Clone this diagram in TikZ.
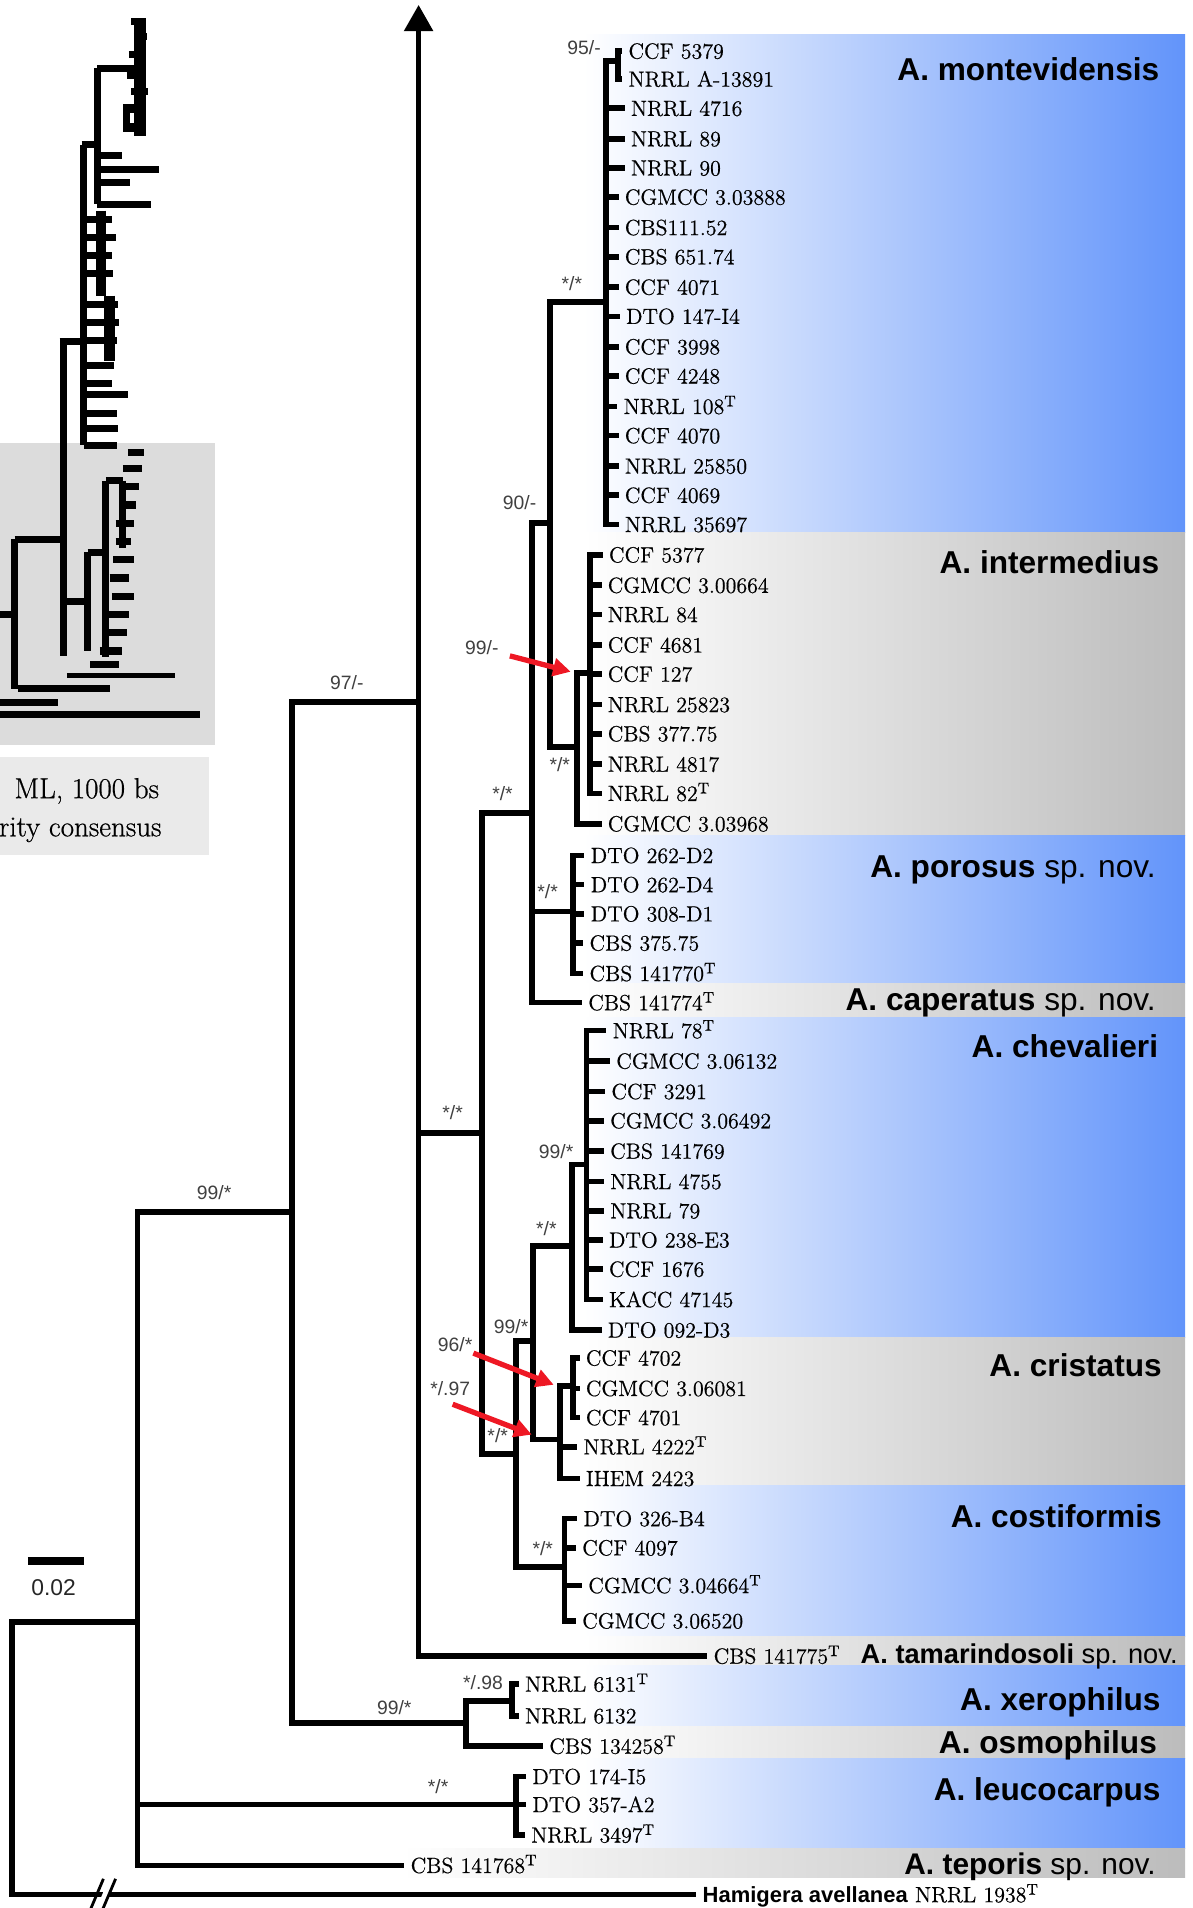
\documentclass[tikz,border=0pt]{standalone}
\usepackage{fontspec}
\usepackage{tikz}
\usetikzlibrary{arrows.meta, positioning, calc}
\newfontfamily\supfont{Liberation Sans}
\newfontfamily\cladefamily{Liberation Sans}
\newfontfamily\tipfamily{Latin Modern Roman}[FakeBold=0.6]
\definecolor{bandblue}{RGB}{98,148,250}
\definecolor{bandgray}{RGB}{188,188,188}
\definecolor{arrowred}{RGB}{238,24,36}
\definecolor{insetgray}{RGB}{220,220,220}
\definecolor{boxgray}{RGB}{234,234,234}
\newcommand{\typemark}{\textsuperscript{T}}
\newcommand{\cladeband}[4]{\shade[left color=white, right color=#4] (#1,#2) rectangle (974,#3);}
\tikzset{
    branch/.style={draw, line width=3.2pt, line cap=rect, black},
    thumb/.style={draw, line width=4pt, black},
    tip/.style={anchor=west, inner xsep=5pt, inner ysep=0pt, text height=8.6pt, text depth=0pt, font=\tipfamily\fontsize{12.5}{14}\selectfont},
    support/.style={inner sep=0pt, font=\supfont\fontsize{11}{12}\selectfont, text=black!75},
    clade/.style={anchor=east, inner sep=0pt, text height=13pt, text depth=0pt, font=\cladefamily\fontsize{18}{20}\selectfont},
    pointer/.style={draw=arrowred, line width=3pt, -{Triangle[length=10pt, width=10pt]}}
}
\begin{document}
\begin{tikzpicture}[x=0.02434cm, y=-0.02434cm]
\useasboundingbox (0,0) rectangle (980,1568);

% Coloured bands of the species
\cladeband{480}{28}{438}{bandblue}
\cladeband{480}{438}{687}{bandgray}
\cladeband{480}{687}{808}{bandblue}
\cladeband{480}{808}{836}{bandgray}
\cladeband{480}{836}{1099}{bandblue}
\cladeband{480}{1099}{1221}{bandgray}
\cladeband{480}{1221}{1345}{bandblue}
\cladeband{480}{1345}{1369}{bandgray}
\cladeband{480}{1369}{1419}{bandblue}
\cladeband{480}{1419}{1445}{bandgray}
\cladeband{480}{1445}{1519}{bandblue}
\cladeband{330}{1519}{1543}{bandgray}

% Thumbnail of the whole tree
\fill[insetgray] (0,364) rectangle (177,612);
\fill[boxgray] (0,622) rectangle (172,703);
\node[anchor=east, inner sep=0pt, font=\tipfamily\fontsize{16.5}{18}\selectfont] (ml) at (131,650) {ML, 1000 bs};
\node[anchor=west, inner sep=0pt, font=\tipfamily\fontsize{16.5}{18}\selectfont] (cons) at (-1,682) {rity consensus};
\draw[thumb] (67,119) -- (80,119);
\draw[thumb] (80,56) -- (80,168);
\draw[thumb] (80,56) -- (110,56);
\draw[line width=7pt] (115,16) -- (115,112);
\draw[thumb] (108,18) -- (120,18) (110,30) -- (121,30) (106,45) -- (119,45) (104,62) -- (118,62)
    (108,75) -- (122,75) (104,90) -- (116,90) (106,104) -- (120,104);
\draw[thumb] (104,88) rectangle (113,106);
\draw[thumb] (80,128) -- (100,128) (80,139) -- (131,139) (80,150) -- (107,150) (80,168) -- (124,168);
\draw[thumb] (69,119) -- (69,366);
\draw[line width=6pt] (83,173) -- (83,243);
\draw[line width=6pt] (90,243) -- (90,297);
\draw[thumb] (69,180) -- (92,180) (69,195) -- (95,195) (69,210) -- (92,210) (69,225) -- (93,225)
    (69,250) -- (97,250) (69,265) -- (98,265) (69,280) -- (96,280) (69,300) -- (94,300)
    (69,315) -- (92,315) (69,324) -- (105,324) (69,340) -- (96,340) (69,352) -- (97,352) (69,366) -- (96,366);
\draw[thumb] (49,281) -- (69,281);
\draw[thumb] (52,281) -- (52,539);
\draw[thumb] (12,443) -- (52,443);
\draw[thumb] (12,443) -- (12,566);
\draw[thumb] (0,505) -- (12,505);
\draw[thumb] (52,494) -- (72,494);
\draw[thumb] (72,454) -- (72,535);
\draw[thumb] (72,454) -- (87,454);
\draw[thumb] (87,395) -- (87,540);
\draw[thumb] (87,395) -- (101,395);
\draw[thumb] (101,395) -- (101,450);
\draw[thumb] (105,372) -- (118,372) (101,385) -- (117,385) (99,400) -- (114,400) (100,415) -- (112,415)
    (95,430) -- (110,430) (95,445) -- (108,445) (93,460) -- (110,460) (90,475) -- (106,475)
    (92,490) -- (110,490) (88,505) -- (106,505) (86,520) -- (104,520) (82,535) -- (100,535) (74,546) -- (98,546);
\draw[line width=2.5pt] (55,555) -- (144,555);
\draw[thumb] (15,566) -- (90,566);
\draw[thumb] (0,577) -- (48,577);
\draw[thumb] (0,587) -- (164,587);

% Internal nodes
\coordinate (root) at (10,1333);
\coordinate (nB) at (113,1333);
\coordinate (nC) at (240,996);
\coordinate (nD) at (344,577);
\coordinate (top) at (344,4);
\coordinate (nE) at (396,931);
\coordinate (nF) at (437,668);
\coordinate (nH) at (452,430);
\coordinate (nMon) at (498,248);
\coordinate (nMon2) at (508,50);
\coordinate (nInt) at (474,614);
\coordinate (nInt2) at (485,553);
\coordinate (nPor) at (471,749);
\coordinate (nG) at (424,1195);
\coordinate (nI) at (438,1102);
\coordinate (nJ) at (470,1024);
\coordinate (nChe) at (482,957);
\coordinate (nCri) at (460,1183);
\coordinate (nCri2) at (471,1139);
\coordinate (nCos) at (464,1288);
\coordinate (nXO) at (383,1416);
\coordinate (nXer) at (421,1398);
\coordinate (nLeu) at (424,1483);

% A. montevidensis
\node[tip] (m1) at (509,42) {CCF 5379};
\node[tip] (m2) at (509,65) {NRRL A-13891};
\node[tip] (m3) at (511,89) {NRRL 4716};
\node[tip] (m4) at (511,114) {NRRL 89};
\node[tip] (m5) at (511,138) {NRRL 90};
\node[tip] (m6) at (506,162) {CGMCC 3.03888};
\node[tip] (m7) at (506,187) {CBS111.52};
\node[tip] (m8) at (506,211) {CBS 651.74};
\node[tip] (m9) at (506,236) {CCF 4071};
\node[tip] (m10) at (507,260) {DTO 147-I4};
\node[tip] (m11) at (506,285) {CCF 3998};
\node[tip] (m12) at (506,309) {CCF 4248};
\node[tip] (m13) at (505,334) {NRRL 108\typemark};
\node[tip] (m14) at (506,358) {CCF 4070};
\node[tip] (m15) at (506,383) {NRRL 25850};
\node[tip] (m16) at (506,407) {CCF 4069};
\node[tip] (m17) at (506,431) {NRRL 35697};

% A. intermedius
\node[tip] (i1) at (493,456) {CCF 5377};
\node[tip] (i2) at (492,481) {CGMCC 3.00664};
\node[tip] (i3) at (492,505) {NRRL 84};
\node[tip] (i4) at (492,530) {CCF 4681};
\node[tip] (i5) at (492,554) {CCF 127};
\node[tip] (i6) at (492,579) {NRRL 25823};
\node[tip] (i7) at (492,603) {CBS 377.75};
\node[tip] (i8) at (492,628) {NRRL 4817};
\node[tip] (i9) at (492,652) {NRRL 82\typemark};
\node[tip] (i10) at (492,677) {CGMCC 3.03968};

% A. porosus and A. caperatus
\node[tip] (p1) at (478,703) {DTO 262-D2};
\node[tip] (p2) at (478,727) {DTO 262-D4};
\node[tip] (p3) at (478,751) {DTO 308-D1};
\node[tip] (p4) at (477,775) {CBS 375.75};
\node[tip] (p5) at (477,800) {CBS 141770\typemark};
\node[tip] (c1) at (476,824) {CBS 141774\typemark};

% A. chevalieri
\node[tip] (h1) at (496,847) {NRRL 78\typemark};
\node[tip] (h2) at (499,872) {CGMCC 3.06132};
\node[tip] (h3) at (495,897) {CCF 3291};
\node[tip] (h4) at (494,921) {CGMCC 3.06492};
\node[tip] (h5) at (494,946) {CBS 141769};
\node[tip] (h6) at (494,971) {NRRL 4755};
\node[tip] (h7) at (494,995) {NRRL 79};
\node[tip] (h8) at (493,1019) {DTO 238-E3};
\node[tip] (h9) at (493,1043) {CCF 1676};
\node[tip] (h10) at (493,1068) {KACC 47145};
\node[tip] (h11) at (492,1093) {DTO 092-D3};

% A. cristatus
\node[tip] (r1) at (474,1116) {CCF 4702};
\node[tip] (r2) at (474,1141) {CGMCC 3.06081};
\node[tip] (r3) at (474,1165) {CCF 4701};
\node[tip] (r4) at (472,1189) {NRRL 4222\typemark};
\node[tip] (r5) at (474,1215) {IHEM 2423};

% A. costiformis
\node[tip] (o1) at (472,1248) {DTO 326-B4};
\node[tip] (o2) at (471,1272) {CCF 4097};
\node[tip] (o3) at (476,1303) {CGMCC 3.04664\typemark};
\node[tip] (o4) at (471,1332) {CGMCC 3.06520};

% Remaining species and outgroup
\node[tip] (t1) at (579,1361) {CBS 141775\typemark};
\node[tip] (x1) at (424,1384) {NRRL 6131\typemark};
\node[tip] (x2) at (424,1410) {NRRL 6132};
\node[tip] (x3) at (444,1435) {CBS 134258\typemark};
\node[tip] (l1) at (430,1460) {DTO 174-I5};
\node[tip] (l2) at (430,1483) {DTO 357-A2};
\node[tip] (l3) at (429,1508) {NRRL 3497\typemark};
\node[tip] (e1) at (330,1533) {CBS 141768\typemark};
\node[tip] (g1) at (570,1557) {{\supfont\bfseries\fontsize{12.5}{14}\selectfont Hamigera avellanea} NRRL 1938\typemark};

% Branches
\draw[branch] (root) -- (nB) (root) |- (g1.west);
\draw[branch] (nB) |- (nC) (nB) |- (nLeu) (nB) |- (e1.west);
\draw[branch] (nC) |- (nD) (nC) |- (nXO);
\draw[branch] (nD) |- (nE) (nD) |- (t1.west);
\draw[branch, -{Triangle[length=15pt, width=16pt]}] (nD) -- (top);
\draw[branch] (nE) |- (nF) (nE) |- (nG);
\draw[branch] (nF) |- (nH) (nF) |- (nPor) (nF) |- (c1.west);
\draw[branch] (nH) |- (nMon) (nH) |- (nInt);
\draw[branch] (nMon) |- (nMon2) (nMon2) |- (m1.west) (nMon2) |- (m2.west)
    (nMon) |- (m3.west) (nMon) |- (m4.west) (nMon) |- (m5.west) (nMon) |- (m6.west)
    (nMon) |- (m7.west) (nMon) |- (m8.west) (nMon) |- (m9.west) (nMon) |- (m10.west)
    (nMon) |- (m11.west) (nMon) |- (m12.west) (nMon) |- (m13.west) (nMon) |- (m14.west)
    (nMon) |- (m15.west) (nMon) |- (m16.west) (nMon) |- (m17.west);
\draw[branch] (nInt) |- (nInt2) (nInt) |- (i10.west)
    (nInt2) |- (i1.west) (nInt2) |- (i2.west) (nInt2) |- (i3.west) (nInt2) |- (i4.west)
    (nInt2) |- (i5.west) (nInt2) |- (i6.west) (nInt2) |- (i7.west) (nInt2) |- (i8.west) (nInt2) |- (i9.west);
\draw[branch] (nPor) |- (p1.west) (nPor) |- (p2.west) (nPor) |- (p3.west) (nPor) |- (p4.west) (nPor) |- (p5.west);
\draw[branch] (nG) |- (nI) (nG) |- (nCos);
\draw[branch] (nI) |- (nJ) (nI) |- (nCri);
\draw[branch] (nJ) |- (nChe) (nJ) |- (h11.west);
\draw[branch] (nChe) |- (h1.west) (nChe) |- (h2.west) (nChe) |- (h3.west) (nChe) |- (h4.west)
    (nChe) |- (h5.west) (nChe) |- (h6.west) (nChe) |- (h7.west) (nChe) |- (h8.west)
    (nChe) |- (h9.west) (nChe) |- (h10.west);
\draw[branch] (nCri) |- (nCri2) (nCri) |- (r4.west) (nCri) |- (r5.west)
    (nCri2) |- (r1.west) (nCri2) |- (r2.west) (nCri2) |- (r3.west);
\draw[branch] (nCos) |- (o1.west) (nCos) |- (o2.west) (nCos) |- (o3.west) (nCos) |- (o4.west);
\draw[branch] (nXO) |- (nXer) (nXO) |- (x3.west) (nXer) |- (x1.west) (nXer) |- (x2.west);
\draw[branch] (nLeu) |- (l1.west) (nLeu) |- (l2.west) (nLeu) |- (l3.west);

% Break on the outgroup branch
\fill[white] (79,1569) -- (89,1545) -- (94,1545) -- (84,1569) -- cycle;
\draw[line width=1.6pt] (74,1570) -- (85,1544);
\draw[line width=1.6pt] (84,1570) -- (95,1544);

% Scale bar
\coordinate (sbl) at (23,1283);
\coordinate (sbr) at (69,1283);
\draw[line width=4.5pt] (sbl) -- (sbr);
\node[support, font=\supfont\fontsize{13}{14}\selectfont, text=black!85] (sbt) at (44,1305) {0.02};

% Support values
\node[support] (s1) at (480,39) {95/-};
\node[support] (s2) at (470,233) {*/*};
\node[support] (s3) at (427,413) {90/-};
\node[support] (s4) at (396,532) {99/-};
\node[support] (s5) at (460,628) {*/*};
\node[support] (s6) at (413,652) {*/*};
\node[support] (s7) at (450,733) {*/*};
\node[support] (s8) at (285,561) {97/-};
\node[support] (s9) at (372,914) {*/*};
\node[support] (s10) at (457,946) {99/*};
\node[support] (s11) at (449,1010) {*/*};
\node[support] (s12) at (420,1090) {99/*};
\node[support] (s13) at (374,1105) {96/*};
\node[support] (s14) at (370,1141) {*/.97};
\node[support] (s15) at (409,1180) {*/*};
\node[support] (s16) at (446,1273) {*/*};
\node[support] (s17) at (176,980) {99/*};
\node[support] (s18) at (324,1403) {99/*};
\node[support] (s19) at (397,1383) {*/.98};
\node[support] (s20) at (360,1468) {*/*};

% Red pointers
\coordinate (a1s) at (419,539);
\coordinate (a1e) at (469,552);
\coordinate (a2s) at (389,1112);
\coordinate (a2e) at (455,1138);
\coordinate (a3s) at (372,1154);
\coordinate (a3e) at (437,1179);
\draw[pointer] (a1s) -- (a1e);
\draw[pointer] (a2s) -- (a2e);
\draw[pointer] (a3s) -- (a3e);

% Species names
\node[clade] (kMon) at (953,57) {\bfseries A. montevidensis};
\node[clade] (kInt) at (953,462) {\bfseries A. intermedius};
\node[clade] (kPor) at (950,712) {{\bfseries A. porosus} sp. nov.};
\node[clade] (kCap) at (950,821) {{\bfseries A. caperatus} sp. nov.};
\node[clade] (kChe) at (952,860) {\bfseries A. chevalieri};
\node[clade] (kCri) at (955,1122) {\bfseries A. cristatus};
\node[clade] (kCos) at (955,1246) {\bfseries A. costiformis};
\node[clade, font=\cladefamily\fontsize{15.5}{17}\selectfont, text height=11pt] (kTam) at (968,1359) {{\bfseries A. tamarindosoli} sp. nov.};
\node[clade] (kXer) at (954,1396) {\bfseries A. xerophilus};
\node[clade] (kOsm) at (951,1432) {\bfseries A. osmophilus};
\node[clade] (kLeu) at (954,1470) {\bfseries A. leucocarpus};
\node[clade, font=\cladefamily\fontsize{17}{19}\selectfont, text height=12pt] (kTep) at (950,1532) {{\bfseries A. teporis} sp. nov.};
\end{tikzpicture}
\end{document}
